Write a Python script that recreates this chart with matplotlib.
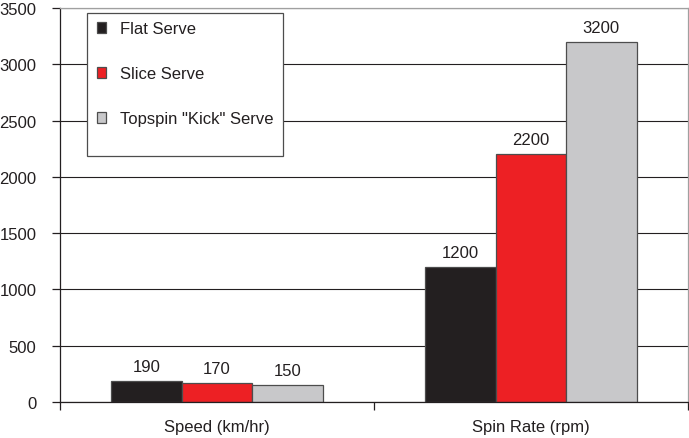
import matplotlib.pyplot as plt
import numpy as np
from matplotlib.patches import Rectangle

plt.rcParams['font.family'] = ['Liberation Sans', 'DejaVu Sans']

categories = ['Speed (km/hr)', 'Spin Rate (rpm)']
series_names = ['Flat Serve', 'Slice Serve', 'Topspin "Kick" Serve']
flat = [190, 1200]
slice_ = [170, 2200]
topspin = [150, 3200]
colors = ['#231f20', '#ed2024', '#c8c8ca']

fig = plt.figure(figsize=(6.89, 4.39), dpi=100)
ax = fig.add_axes([60 / 689, 1 - 403 / 439, 628 / 689, 394 / 439])

x = np.arange(len(categories))
w = 0.224
for i, (vals, name, col) in enumerate(zip([flat, slice_, topspin], series_names, colors)):
    bars = ax.bar(x + (i - 1) * w, vals, w, color=col, edgecolor='#4d4d4d',
                  linewidth=0.9, label=name, zorder=2)
    ax.bar_label(bars, padding=5, fontsize=12, color='#231f20')

ax.set_xlim(-0.5, 1.5)
ax.set_ylim(0, 3500)
ax.set_yticks(np.arange(0, 3501, 500))
ax.set_xticks(x)
ax.set_xticklabels(categories)
ax.set_xticks([-0.5, 0.5, 1.5], minor=True)
ax.tick_params(axis='x', which='major', length=0, pad=12.5, labelsize=12, labelcolor='#231f20')
ax.tick_params(axis='x', which='minor', length=6, width=0.9, color='#231f20')
ax.tick_params(axis='y', length=6, width=0.9, pad=11, labelsize=12, labelcolor='#231f20', color='#231f20')

ax.set_axisbelow(True)
ax.yaxis.grid(True, color='#231f20', linewidth=0.8)
for s in ['left', 'bottom']:
    ax.spines[s].set_color('#231f20')
    ax.spines[s].set_linewidth(0.9)
for s in ['top', 'right']:
    ax.spines[s].set_color('#a0a0a0')
    ax.spines[s].set_linewidth(0.9)

leg = ax.legend(loc='upper left', bbox_to_anchor=(0.059, 0.966), frameon=False,
                borderpad=0, borderaxespad=0, handlelength=0.55, handleheight=0.55,
                handletextpad=0.85, labelspacing=1.8, fontsize=12)
for t in leg.get_texts():
    t.set_color('#231f20')
ax.add_patch(Rectangle(((87 - 60) / 628, (403 - 157) / 394), (283 - 87) / 628, (157 - 14) / 394,
                       transform=ax.transAxes, fill=True, facecolor='white',
                       edgecolor='#4d4d4d', linewidth=0.9, zorder=3))
leg.set_zorder(4)

fig.savefig('out.png', dpi=100)
